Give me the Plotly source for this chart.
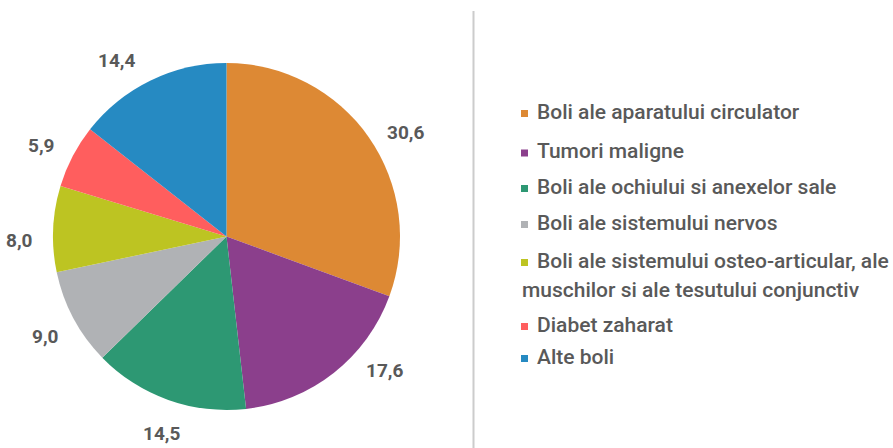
import math
import plotly.graph_objects as go

W, H = 893, 448

categories = [
    "Boli ale aparatului circulator",
    "Tumori maligne",
    "Boli ale ochiului si anexelor sale",
    "Boli ale sistemului nervos",
    "Boli ale sistemului osteo-articular, ale muschilor si ale tesutului conjunctiv",
    "Diabet zaharat",
    "Alte boli",
]
values = [30.6, 17.6, 14.5, 9.0, 8.0, 5.9, 14.4]
colors = ["#DD8934", "#8B3F8C", "#2D9873", "#B0B2B5", "#BDC422", "#FF5E5E", "#268AC2"]

TEXT = "#595959"
FONT = "Roboto"

# pie geometry (pixels)
CX, CY, R = 226.5, 236.5, 173.5
LABEL_R = 207
# manual nudges (degrees) of value labels, as in the original layout
label_nudge = [4.7, -11.5, -1.4, -0.7, -3.5, -1.5, -6.1]

fig = go.Figure()
fig.add_trace(go.Pie(
    labels=categories,
    values=values,
    sort=False,
    direction="clockwise",
    rotation=0,
    marker=dict(colors=colors, line=dict(width=0)),
    textinfo="none",
    domain=dict(x=[(CX - R) / W, (CX + R) / W], y=[1 - (CY + R) / H, 1 - (CY - R) / H]),
    showlegend=False,
    hoverinfo="label+value",
))

annotations = []
shapes = []

# value labels, placed from the slice mid-angles
total = sum(values)
cum = 0.0
for v, nudge in zip(values, label_nudge):
    mid = (cum + v / 2) / total * 360 + nudge
    cum += v
    a = math.radians(mid)
    x = CX + LABEL_R * math.sin(a)
    y = CY - LABEL_R * math.cos(a)
    annotations.append(dict(
        text=f"{v:.1f}".replace(".", ","), xref="paper", yref="paper",
        x=x / W, y=1 - y / H, xanchor="center", yanchor="middle", showarrow=False,
        font=dict(family=FONT, size=19, color=TEXT, weight="bold"),
    ))

# custom legend (wrapping like the original)
legend_lines = [
    ["Boli ale aparatului circulator"],
    ["Tumori maligne"],
    ["Boli ale ochiului si anexelor sale"],
    ["Boli ale sistemului nervos"],
    ["Boli ale sistemului osteo-articular, ale", "muschilor si ale tesutului conjunctiv"],
    ["Diabet zaharat"],
    ["Alte boli"],
]
item_y = [112, 151.5, 187, 223, 261, 325, 357]
line_gap = 29
mx0, mx1 = 521, 528
tx = 535

for lines, col, yc in zip(legend_lines, colors, item_y):
    shapes.append(dict(type="rect", xref="paper", yref="paper",
                       x0=mx0 / W, x1=mx1 / W,
                       y0=1 - (yc + 5) / H, y1=1 - (yc - 2) / H,
                       fillcolor=col, line=dict(width=0)))
    for i, ln in enumerate(lines):
        x = tx if i == 0 else mx0 - 1
        annotations.append(dict(
            text=ln, xref="paper", yref="paper",
            x=x / W, y=1 - (yc + i * line_gap) / H,
            xanchor="left", yanchor="middle", showarrow=False,
            font=dict(family=FONT, size=21, color=TEXT, weight=500),
        ))

shapes.append(dict(type="line", xref="paper", yref="paper",
                   x0=473.5 / W, x1=473.5 / W, y0=0, y1=1 - 11 / H,
                   line=dict(color="#CCCCCC", width=2)))

fig.update_layout(
    width=W, height=H,
    margin=dict(l=0, r=0, t=0, b=0),
    paper_bgcolor="white",
    plot_bgcolor="white",
    separators=",.",
    shapes=shapes,
    annotations=annotations,
)

fig.write_html("out.html", config={"displayModeBar": False},
               post_script="document.body.style.margin='0';")
